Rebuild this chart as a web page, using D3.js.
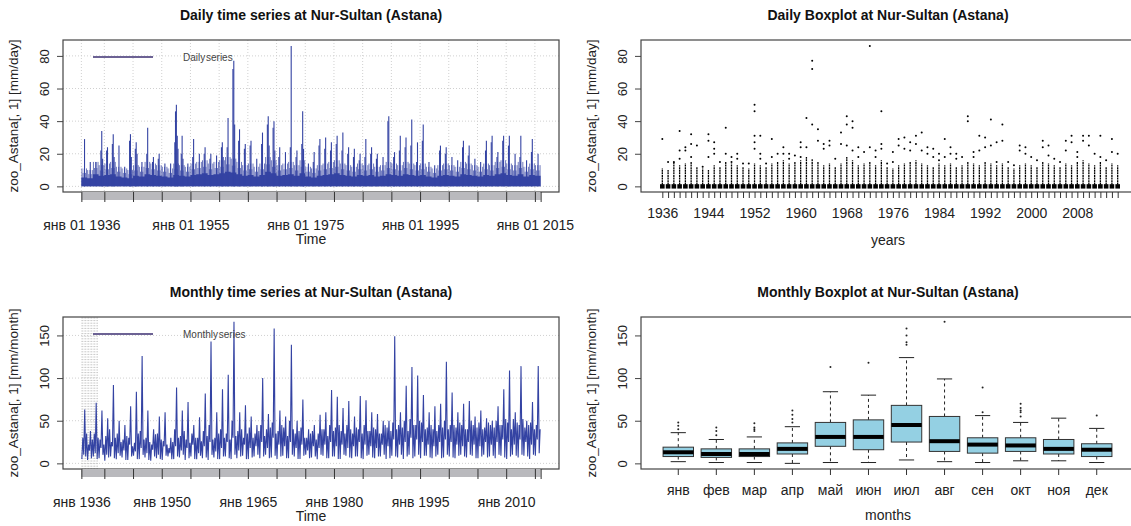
<!DOCTYPE html>
<html><head><meta charset="utf-8">
<script src="https://cdn.jsdelivr.net/npm/d3@7"></script>
<style>
body{margin:0;background:#fff;}
svg{display:block;font-family:"Liberation Sans",Arial,sans-serif;}
</style></head><body>
<svg id="c" width="1131" height="526"></svg>
<script>
// ---------------- DATA ----------------
const years = d3.range(1936, 2016);
// top of the dense cloud of daily values per year (mm/day)
const dailyDense = [11,10,15,13,14,15,12,11,10,13, 12,15,14,13,12,11,14,13,12,14,
  15,16,14,15,16,18,17,15,13,14, 12,14,18,16,13,14,15,13,16,12,
  11,13,14,15,16,14,13,12,14,13, 14,12,13,15,14,13,15,14,13,14,
  12,11,13,14,13,12,15,14,13,12, 14,13,15,16,14,13,15,12,14,13];
// isolated large daily values (outliers) per year
const dailyOutliers = [
  [29],[15],[15],[34,22,17],[24,22],[32,26,18],[25],[12],[32,28,18],[27,23,20],
  [15],[36,20],[18,15],[20,17],[14],[14],[50,46,31,27,23],[31,20,17],[14],[29,18],
  [20],[24,20],[20,17],[19],[27,24,18],[42,24],[77,72,38],[35,28],[26,23],[28,25],
  [17],[33,26],[43,38,25],[40,36,22],[24,18],[21],[86,24],[22,18],[46,26,23],[14],
  [21,15],[29,25],[30,23],[27,22],[31,26],[33,22],[24,20],[23,18],[20,16],[29,18],
  [24,20],[20,17],[18],[43,40],[21,18],[31,22],[30,24],[41,25],[27,15],[38,28],
  [15],[13],[25,22],[24,20],[18],[16],[28,24],[25,19],[17],[15],
  [28,22],[31,27],[21,18],[31,28],[31,25],[20],[31,18],[16],[29,21],[20]];
// monthly totals sampled every two months (Jan-Feb ... Nov-Dec), mm/month
const monthlyBi = [
  [5,30,10,63,8,35],[4,22,15,38,6,28],[8,35,12,71,5,30],[6,28,18,62,10,22],[3,32,10,53,7,40],
  [8,25,20,92,6,30],[5,35,12,50,9,25],[7,28,15,45,4,32],[4,30,22,67,8,20],[9,24,14,84,5,35],
  [5,38,18,126,10,28],[7,30,12,62,4,25],[3,22,16,40,8,34],[6,35,10,55,5,28],[4,26,20,60,9,22],
  [8,18,12,30,5,25],[5,40,20,89,8,30],[7,32,15,62,10,38],[4,28,18,72,6,24],[8,35,22,45,5,30],
  [5,30,12,54,9,26],[6,38,20,82,7,32],[4,45,25,143,10,28],[7,30,14,60,5,35],[5,40,18,87,8,30],
  [8,35,25,104,6,28],[5,50,30,166,10,32],[6,38,15,60,8,40],[9,30,22,68,5,35],[5,42,18,55,7,30],
  [8,35,20,45,10,38],[6,45,25,100,8,32],[10,40,18,58,6,42],[7,48,30,158,9,35],[5,38,22,62,8,45],
  [9,42,20,55,6,32],[6,50,25,139,10,40],[8,35,18,50,5,38],[5,42,22,75,9,30],[10,30,15,40,6,35],
  [7,38,20,45,8,28],[5,35,18,57,10,40],[9,40,22,60,6,32],[6,45,25,86,8,38],[8,42,20,78,5,45],
  [5,38,22,65,10,35],[9,45,18,73,7,40],[6,35,20,55,8,42],[8,40,25,79,6,35],[5,45,22,74,9,38],
  [10,38,20,60,7,42],[6,40,18,58,8,35],[8,35,22,50,10,45],[5,42,20,50,6,38],[9,48,28,149,8,40],
  [7,45,22,60,10,42],[5,50,25,91,8,38],[10,52,30,113,6,45],[8,45,28,103,10,50],[6,48,25,80,9,40],
  [9,42,22,60,7,45],[6,40,20,67,8,38],[10,45,25,70,6,42],[7,50,28,119,10,40],[8,45,25,83,7,45],
  [6,42,22,60,9,48],[10,45,20,70,8,40],[7,40,25,73,10,50],[9,45,22,55,6,42],[6,48,20,62,8,40],
  [10,42,25,53,7,48],[8,45,22,50,9,42],[6,50,25,67,10,45],[9,45,28,87,7,52],[5,48,25,109,8,40],
  [10,52,22,60,9,48],[7,45,28,114,10,52],[9,42,25,50,8,45],[5,48,22,72,10,40],[9,45,28,114,12,40]];

const monthNames = ["янв","фев","мар","апр","май","июн","июл","авг","сен","окт","ноя","дек"];
const mLow  = [2,1,1,0,1,1,4,2,1,3,3,1];
const mQ1   = [8,7,8,11,20,16,25,14,12,14,11,8];
const mMed  = [13,11,11,17,31,31,45,26,22,21,17,16];
const mQ3   = [19,17,17,24,48,51,68,55,30,30,28,23];
const mHigh = [36,28,31,43,84,80,124,99,56,48,53,41];
const mOut  = [[40,44,48],[33,38,42],[38,40,42,47],[48,52,57,62],[113],[118],[139,142,150,158],[166],[60,89],[55,60,62,65,70],[],[56]];

const tsTickYears = [1936,1940,1945,1950,1955,1960,1965,1970,1975,1980,1985,1990,1995,2000,2005,2010,2015,2016];
const dailyLabelYears = [1936,1955,1975,1995,2015];
const dailyLabels = ["янв 01 1936","янв 01 1955","янв 01 1975","янв 01 1995","янв 01 2015"];
const monthlyLabelYears = [1936,1950,1965,1980,1995,2010];
const monthlyLabels = ["янв 1936","янв 1950","янв 1965","янв 1980","янв 1995","янв 2010"];
const boxYearLabels = [1936,1944,1952,1960,1968,1976,1984,1992,2000,2008];
const dailyYTicks = [0,20,40,60,80];
const monthlyYTicks = [0,50,100,150];

// ---------------- DRAWING ----------------
const svg = d3.select("#c");
const BLUE = "#3443a3", TXT = "#222", FRAME = "#444";
const spikeOffsets = [0.55, 0.40, 0.70, 0.28, 0.83];

const P = {
  tl:{l:63,r:559,t:40,b:192},
  tr:{l:641,r:1139,t:40,b:192},
  bl:{l:63,r:559,t:317,b:469},
  br:{l:641,r:1134,t:317,b:469}
};
const xTS = d3.scaleLinear().domain([1936-3.2, 2016+3.2]).range([P.tl.l, P.tl.r]);
const yDay = d3.scaleLinear().domain([-3.45, 89.75]).range([P.tl.b, P.tl.t]);
const yMon = d3.scaleLinear().domain([-6.6, 171.6]).range([P.bl.b, P.bl.t]);
const xYB = d3.scaleLinear().domain([0.5-3.2, 80.5+3.2]).range([P.tr.l, P.tr.r]);
const xMB = d3.scaleBand().domain(monthNames).range([P.br.l + 0.48/12.96*(P.br.r-P.br.l), P.br.r - 0.48/12.96*(P.br.r-P.br.l)]).paddingInner(0.2).paddingOuter(0.1);

function title(txt, cx, y){
  svg.append("text").attr("x",cx).attr("y",y).attr("text-anchor","middle")
    .attr("font-weight","bold").attr("font-size",14).attr("fill","#111").text(txt);
}
function yAxis(p, scale, ticks, label){
  const g = svg.append("g").attr("transform",`translate(${p.l},0)`)
    .call(d3.axisLeft(scale).tickValues(ticks).tickSize(6).tickFormat(d3.format("d")));
  g.select(".domain").remove();
  g.selectAll(".tick line").attr("stroke",FRAME);
  g.selectAll(".tick text").attr("transform","rotate(-90)").attr("x",0).attr("y",-14)
    .attr("dy",0).attr("text-anchor","middle").attr("font-size",13).attr("fill",TXT)
    .style("font-family","Liberation Sans, Arial, sans-serif");
  svg.append("text").attr("transform",`translate(${p.l-45},${(p.t+p.b)/2}) rotate(-90)`)
    .attr("text-anchor","middle").attr("font-size",13.5).attr("fill",TXT).text(label);
}
function frame(p){
  svg.append("rect").attr("x",p.l).attr("y",p.t).attr("width",p.r-p.l).attr("height",p.b-p.t)
    .attr("fill","none").attr("stroke",FRAME).attr("stroke-width",1.2);
}
function tsXAxis(p, labYears, labs){
  svg.append("rect").attr("x",xTS(1936)).attr("y",p.b).attr("width",xTS(2016)-xTS(1936)).attr("height",8)
    .attr("fill","#b9b9bd");
  const g = svg.append("g").attr("transform",`translate(0,${p.b})`)
    .call(d3.axisBottom(xTS).tickValues(tsTickYears).tickSize(10)
      .tickFormat(d=>{const i=labYears.indexOf(d); return i>=0?labs[i]:"";}));
  g.select(".domain").remove();
  g.selectAll(".tick line").attr("stroke","#333");
  g.selectAll(".tick text").attr("y",38).attr("dy",0).attr("font-size",14).attr("fill",TXT)
    .style("font-family","Liberation Sans, Arial, sans-serif");
  svg.append("text").attr("x",(p.l+p.r)/2).attr("y",p.b+52).attr("text-anchor","middle")
    .attr("font-size",14).attr("fill",TXT).text("Time");
}
function grid(p, xs, yt, ys){
  const g = svg.append("g").attr("stroke","#d0d0d0").attr("stroke-dasharray","1,2").attr("stroke-width",1);
  yt.forEach(v=>g.append("line").attr("x1",p.l).attr("x2",p.r).attr("y1",ys(v)).attr("y2",ys(v)));
  xs.forEach(v=>g.append("line").attr("y1",p.t).attr("y2",p.b).attr("x1",xTS(v)).attr("x2",xTS(v)));
}

// ===== Top-left: daily series =====
title("Daily time series at Nur-Sultan (Astana)", (P.tl.l+P.tl.r)/2, 20);
grid(P.tl, tsTickYears.slice(0,-1), dailyYTicks, yDay);
const densePts = years.map((y,i)=>({y:y, v:dailyDense[i]})).concat([{y:2016, v:dailyDense[79]}]);
svg.append("g").selectAll("line").data(densePts.slice(0,-1).flatMap(d=>[0.1,0.3,0.5,0.7,0.9].map((o,k)=>({t:d.y+o, v:d.v*(k%2?0.75:1)}))))
  .join("line").attr("x1",d=>xTS(d.t)).attr("x2",d=>xTS(d.t)).attr("y1",yDay(0)).attr("y2",d=>yDay(d.v))
  .attr("stroke",BLUE).attr("stroke-width",0.9).attr("opacity",0.8);
const denseArea = d3.area().curve(d3.curveStepAfter)
  .x(d=>xTS(d.y)).y0(yDay(0)).y1(d=>yDay(d.v*0.5));
svg.append("path").datum(densePts).attr("d",denseArea).attr("fill",BLUE);
const spikes = [];
years.forEach((y,i)=>dailyOutliers[i].forEach((v,k)=>spikes.push({t:y+spikeOffsets[k%5], v})));
svg.append("g").selectAll("line").data(spikes).join("line")
  .attr("x1",d=>xTS(d.t)).attr("x2",d=>xTS(d.t)).attr("y1",yDay(0)).attr("y2",d=>yDay(d.v))
  .attr("stroke",BLUE).attr("stroke-width",1.1);
frame(P.tl);
yAxis(P.tl, yDay, dailyYTicks, "zoo_Astana[, 1] [mm/day]");
tsXAxis(P.tl, dailyLabelYears, dailyLabels);
svg.append("line").attr("x1",93).attr("x2",153).attr("y1",57).attr("y2",57).attr("stroke","#6c6294").attr("stroke-width",2);
svg.append("text").attr("x",183).attr("y",61).attr("font-size",10).attr("fill","#444").attr("word-spacing",-2).text("Daily series");

// ===== Top-right: daily boxplot by year =====
title("Daily Boxplot at Nur-Sultan (Astana)", 888, 20);
const bw = (xYB(1.4)-xYB(1));
const gB = svg.append("g");
years.forEach((y,i)=>{
  const cx = xYB(i+1);
  gB.append("line").attr("x1",cx).attr("x2",cx).attr("y1",yDay(1)).attr("y2",yDay(dailyDense[i]))
    .attr("stroke","#000").attr("stroke-width",1.3).attr("stroke-dasharray","2,0.6");
  dailyOutliers[i].forEach(v=>gB.append("circle").attr("cx",cx).attr("cy",yDay(v)).attr("r",1).attr("fill","#000"));
  gB.append("rect").attr("x",cx-bw).attr("width",2*bw).attr("y",yDay(0)-2.2).attr("height",4.4).attr("fill","#000");
});
frame(P.tr);
yAxis(P.tr, yDay, dailyYTicks, "zoo_Astana[, 1] [mm/day]");
{
  const g = svg.append("g").attr("transform",`translate(0,${P.tr.b})`)
    .call(d3.axisBottom(xYB).tickValues(years.map((y,i)=>i+1)).tickSize(6)
      .tickFormat(d=>boxYearLabels.includes(years[d-1])?String(years[d-1]):""));
  g.select(".domain").remove();
  g.selectAll(".tick line").attr("stroke","#333");
  g.selectAll(".tick text").attr("y",16).attr("dy","0.71em").attr("font-size",14).attr("fill",TXT)
    .style("font-family","Liberation Sans, Arial, sans-serif");
  svg.append("text").attr("x",888).attr("y",P.tr.b+53).attr("text-anchor","middle")
    .attr("font-size",14).attr("fill",TXT).text("years");
}

// ===== Bottom-left: monthly series =====
title("Monthly time series at Nur-Sultan (Astana)", (P.bl.l+P.bl.r)/2, 297);
grid(P.bl, [], monthlyYTicks, yMon);
{
  const hg = svg.append("g").attr("stroke","#c9c9c9").attr("stroke-width",1).attr("stroke-dasharray","2,1");
  d3.range(P.bl.t+1, P.bl.b+6, 2.6).forEach(yy=>hg.append("line").attr("x1",xTS(1936)).attr("x2",xTS(1938.9)).attr("y1",yy).attr("y2",yy));
}
const monPts = [];
years.forEach((y,i)=>monthlyBi[i].forEach((v,j)=>monPts.push({t:y+(j+0.5)/6, v})));
svg.append("path").datum(monPts).attr("fill","none").attr("stroke",BLUE).attr("stroke-width",1.1)
  .attr("d",d3.line().x(d=>xTS(d.t)).y(d=>yMon(d.v)));
frame(P.bl);
yAxis(P.bl, yMon, monthlyYTicks, "zoo_Astana[, 1] [mm/month]");
tsXAxis(P.bl, monthlyLabelYears, monthlyLabels);
svg.append("line").attr("x1",93).attr("x2",153).attr("y1",334).attr("y2",334).attr("stroke","#6c6294").attr("stroke-width",2);
svg.append("text").attr("x",183).attr("y",338).attr("font-size",10).attr("fill","#444").attr("word-spacing",-2).text("Monthly series");

// ===== Bottom-right: monthly boxplot =====
title("Monthly Boxplot at Nur-Sultan (Astana)", 888, 297);
const gM = svg.append("g");
monthNames.forEach((m,i)=>{
  const x0 = xMB(m), w = xMB.bandwidth(), cx = x0 + w/2;
  gM.append("line").attr("x1",cx).attr("x2",cx).attr("y1",yMon(mQ3[i])).attr("y2",yMon(mHigh[i]))
    .attr("stroke","#222").attr("stroke-dasharray","3,3");
  gM.append("line").attr("x1",cx).attr("x2",cx).attr("y1",yMon(mQ1[i])).attr("y2",yMon(mLow[i]))
    .attr("stroke","#222").attr("stroke-dasharray","3,3");
  [mHigh[i], mLow[i]].forEach(v=>gM.append("line").attr("x1",cx-w/4).attr("x2",cx+w/4)
    .attr("y1",yMon(v)).attr("y2",yMon(v)).attr("stroke","#222"));
  gM.append("rect").attr("x",x0).attr("width",w).attr("y",yMon(mQ3[i])).attr("height",yMon(mQ1[i])-yMon(mQ3[i]))
    .attr("fill","#94d0e3").attr("stroke","#333");
  gM.append("line").attr("x1",x0).attr("x2",x0+w).attr("y1",yMon(mMed[i])).attr("y2",yMon(mMed[i]))
    .attr("stroke","#000").attr("stroke-width",4);
  mOut[i].forEach(v=>gM.append("circle").attr("cx",cx).attr("cy",yMon(v)).attr("r",1).attr("fill","#222"));
});
frame(P.br);
yAxis(P.br, yMon, monthlyYTicks, "zoo_Astana[, 1] [mm/month]");
{
  const g = svg.append("g").attr("transform",`translate(0,${P.br.b})`)
    .call(d3.axisBottom(xMB).tickSize(6));
  g.select(".domain").remove();
  g.selectAll(".tick line").attr("stroke","#333");
  g.selectAll(".tick text").attr("y",16).attr("dy","0.71em").attr("font-size",14).attr("fill",TXT)
    .style("font-family","Liberation Sans, Arial, sans-serif");
  svg.append("text").attr("x",888).attr("y",P.br.b+51).attr("text-anchor","middle")
    .attr("font-size",14).attr("fill",TXT).text("months");
}
</script>
</body></html>
